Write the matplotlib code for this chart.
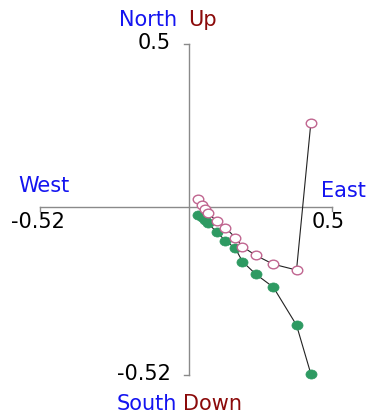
import matplotlib
matplotlib.use("Agg")
import matplotlib.pyplot as plt
from matplotlib.path import Path
from matplotlib.markers import MarkerStyle
from matplotlib.transforms import Affine2D

# Demagnetisation steps: East component shared by both projections
east = [0.034, 0.048, 0.057, 0.066, 0.099, 0.128, 0.163, 0.188, 0.235, 0.296, 0.377, 0.427]
north = [-0.025, -0.033, -0.041, -0.050, -0.080, -0.105, -0.129, -0.170, -0.209, -0.249, -0.366, -0.516]
up = [0.022, 0.005, -0.009, -0.021, -0.045, -0.065, -0.096, -0.124, -0.151, -0.178, -0.196, 0.257]

h_range = [-0.52, 0.5]
v_range = [-0.52, 0.5]
h_labels = ["-0.52", "0.5"]
v_labels = ["-0.52", "0.5"]

W, H = 372, 413
fig = plt.figure(figsize=(W / 100, H / 100), dpi=100)
ax = fig.add_axes([0, 0, 1, 1])
ax.set_axis_off()

# pixel frame -> data frame
x0_px, x_scale = 188.7, 286.0
y0_px, y_scale = 206.5, 324.2
ax.set_xlim((0 - x0_px) / x_scale, (W - x0_px) / x_scale)
ax.set_ylim((y0_px - H) / y_scale, (y0_px - 0) / y_scale)


def px(x, y):
    return (x - x0_px) / x_scale, (y0_px - y) / y_scale


axis_col = "#8a8a8a"
ax.plot(h_range, [0, 0], color=axis_col, lw=1.0, zorder=1)
ax.plot([0, 0], v_range, color=axis_col, lw=1.0, zorder=1)
tx = 5 / x_scale
ty = 4 / y_scale
for v in h_range:
    ax.plot([v, v], [0, -ty], color=axis_col, lw=1.0, zorder=1)
for v in v_range:
    ax.plot([-tx, 0], [v, v], color=axis_col, lw=1.0, zorder=1)

# slightly wide circle marker
ell = MarkerStyle(Path.unit_circle().transformed(Affine2D().scale(1.22, 1.0)))

green = "#2e9a62"
pink = "#c0658f"
ax.plot(east, north, color="#222222", lw=0.8, zorder=2)
ax.plot(east, north, ls="none", marker=ell, ms=8.0, mfc=green, mec=green,
        mew=0.5, zorder=3)
ax.plot(east, up, color="#222222", lw=0.8, zorder=4)
ax.plot(east, up, ls="none", marker=ell, ms=7.6, mfc="white", mec=pink,
        mew=1.0, zorder=5)

fs = 15
fam = "DejaVu Sans"
blue = "#1414f0"
red = "#8b0a0a"

ax.text(*px(176.7, 26), "North", color=blue, fontsize=fs, family=fam,
        ha="right", va="baseline")
ax.text(*px(188.0, 26), "Up", color=red, fontsize=fs, family=fam,
        ha="left", va="baseline")
ax.text(*px(176.7, 410), "South", color=blue, fontsize=fs, family=fam,
        ha="right", va="baseline")
ax.text(*px(183.0, 410), "Down", color=red, fontsize=fs, family=fam,
        ha="left", va="baseline")
ax.text(*px(44.0, 191.7), "West", color=blue, fontsize=fs, family=fam,
        ha="center", va="baseline")
ax.text(*px(343.5, 196.7), "East", color=blue, fontsize=fs, family=fam,
        ha="center", va="baseline")

ax.text(-tx - 13 / x_scale, v_range[1] - 5 / y_scale, v_labels[1], fontsize=fs,
        family=fam, ha="right", va="baseline")
ax.text(-tx - 13 / x_scale, v_range[0] - 5 / y_scale, v_labels[0], fontsize=fs,
        family=fam, ha="right", va="baseline")
ax.text(h_range[0] - 2 / x_scale, -21.5 / y_scale, h_labels[0], fontsize=fs,
        family=fam, ha="center", va="baseline")
ax.text(h_range[1] - 4 / x_scale, -21.5 / y_scale, h_labels[1], fontsize=fs,
        family=fam, ha="center", va="baseline")

fig.savefig("out.png", dpi=100, facecolor="white")
